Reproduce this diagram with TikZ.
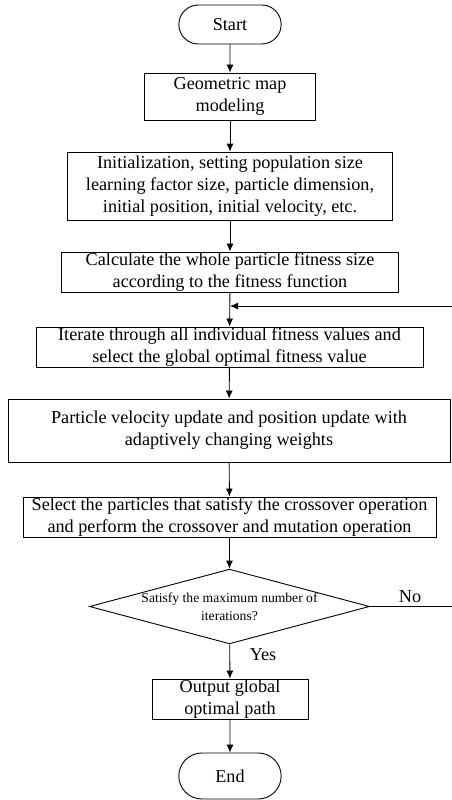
\documentclass[tikz,border=0pt]{standalone}
\usepackage{fontspec}
\setmainfont{Liberation Serif}
\usetikzlibrary{arrows.meta,shapes.geometric}
\tikzset{
	procbox/.style = {draw, rectangle, align=center, inner sep=0pt, font=\fontsize{18.2}{21.8}\selectfont},
	termbox/.style = {draw, rounded rectangle, minimum width=109, minimum height=39, font=\fontsize{18.2}{21.8}\selectfont},
	flow/.style = {-{Latex[length=8pt,width=7pt]}, line width=0.9pt}
}
\usetikzlibrary{shapes.misc}
\begin{document}
\begin{tikzpicture}[x=1pt, y=-1pt, line width=0.9pt]
				\useasboundingbox (0,0) rectangle (451,800);
				\node[termbox] (start) at (230,24.5) {Start};
				\node[procbox, minimum width=171, minimum height=47] (map) at (230,96.5) {Geometric map\\modeling};
				\node[procbox, minimum width=325, minimum height=68] (init) at (230,186) {Initialization, setting population size\\learning factor size, particle dimension,\\initial position, initial velocity, etc.};
				\node[procbox, minimum width=337, minimum height=40] (calc) at (230,272) {Calculate the whole particle fitness size\\according to the fitness function};
				\node[procbox, minimum width=387, minimum height=40] (iter) at (229.5,347) {Iterate through all individual fitness values and\\select the global optimal fitness value};
				\node[procbox, minimum width=442, minimum height=63] (upd) at (229,430.5) {Particle velocity update and position update with\\adaptively changing weights};
				\node[procbox, minimum width=413, minimum height=40] (cross) at (229.5,517) {Select the particles that satisfy the crossover operation\\and perform the crossover and mutation operation};
				\node[draw, diamond, aspect=3.75, minimum width=277, minimum height=73, inner sep=0pt, align=center, font=\fontsize{13.6}{18}\selectfont] (dec) at (229.5,606.5) {Satisfy the maximum number of\\iterations?};
				\node[procbox, minimum width=156, minimum height=40] (out) at (230,699) {Output global\\optimal path};
				\node[termbox, minimum height=46] (end) at (230,776) {End};
				% loop back
				\coordinate (join) at (230,306);
				\coordinate (loopr) at (470,606.5);
				\coordinate (loopt) at (470,306);
				\draw[flow] (start) -- (map);
				\draw[flow] (map) -- (init);
				\draw[flow] (init) -- (calc);
				\draw[flow] (calc) -- (iter);
				\draw[flow] (iter) -- (upd);
				\draw[flow] (upd) -- (cross);
				\draw[flow] (cross) -- (dec);
				\draw[flow] (dec) -- (out);
				\draw[flow] (out) -- (end);
				\draw[flow] (dec.east) -- (loopr) -- (loopt) -- (join);
				\node[font=\fontsize{18.2}{20}\selectfont] (no) at (410,597) {No};
				\node[font=\fontsize{18.2}{20}\selectfont] (yes) at (263,655) {Yes};
		\end{tikzpicture}
\end{document}
